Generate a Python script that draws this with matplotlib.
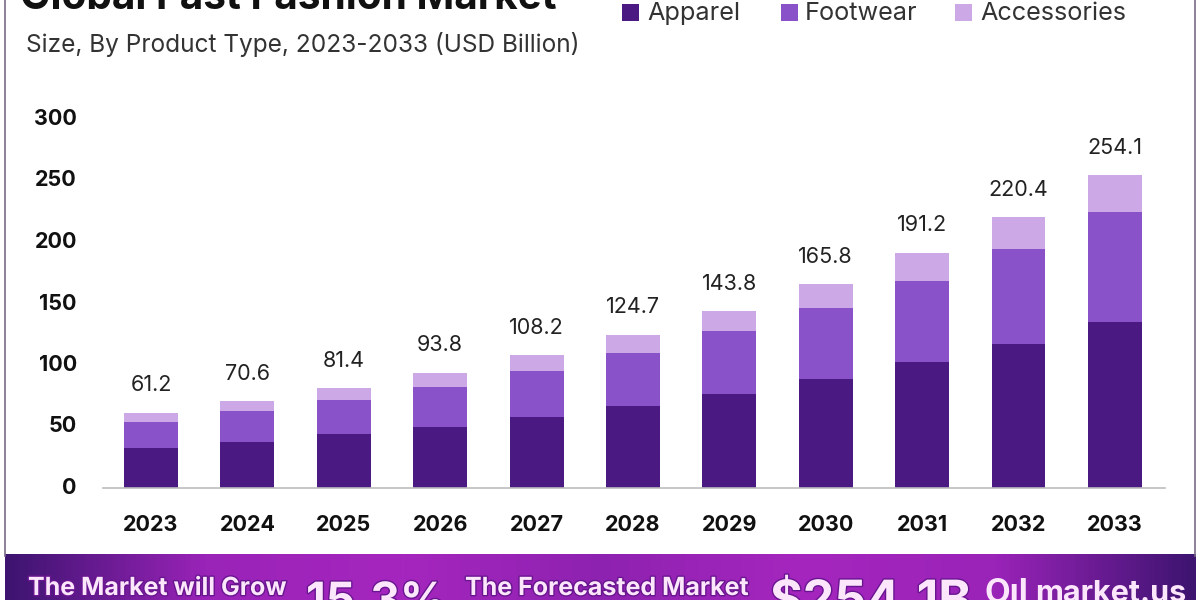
import numpy as np
import matplotlib
matplotlib.use("Agg")
import matplotlib.pyplot as plt
import matplotlib.patheffects as pe
from matplotlib.colors import LinearSegmentedColormap
from matplotlib.patches import Rectangle
from matplotlib.transforms import ScaledTranslation

plt.rcParams['font.family'] = ['Inter', 'DejaVu Sans']

years = ['2023', '2024', '2025', '2026', '2027', '2028', '2029', '2030', '2031', '2032', '2033']
apparel = [32.5, 37.4, 43.9, 49.6, 57.7, 66.7, 76.4, 88.6, 102.4, 117.0, 135.0]
footwear = [21.2, 25.2, 27.6, 32.4, 37.3, 43.3, 51.2, 57.4, 65.6, 77.0, 89.4]
accessories = [7.5, 8.0, 9.9, 11.8, 13.2, 14.7, 16.2, 19.8, 23.2, 26.4, 29.7]
totals = ['61.2', '70.6', '81.4', '93.8', '108.2', '124.7', '143.8', '165.8', '191.2', '220.4', '254.1']
series_names = ['Apparel', 'Footwear', 'Accessories']
series_colors = ['#4A1A82', '#8A52C8', '#CDA8E6']
yticks = [0, 50, 100, 150, 200, 250, 300]

W, H = 1200, 600
fig = plt.figure(figsize=(W / 100, H / 100), dpi=100, facecolor='white')


def fx(x):
    return x / W


def fy(y):
    return 1 - y / H


# Main chart
ax = fig.add_axes([fx(103), fy(488), fx(1165 - 103), (488 - 119) / H])
x = np.arange(len(years))
bottom = np.zeros(len(years))
for vals, col in zip([apparel, footwear, accessories], series_colors):
    ax.bar(x, vals, 0.56, bottom=bottom, color=col, linewidth=0)
    bottom = bottom + np.array(vals)
for xi, top, lab in zip(x, bottom, totals):
    ax.annotate(lab, (xi, top), xytext=(0, 12.5), textcoords='offset points',
                ha='center', va='bottom', fontsize=15.5, color='#222222')
ax.set_xlim(-0.498, 10.52)
ax.set_ylim(0, 300)
ax.set_xticks(x, years)
ax.set_yticks(yticks, [str(t) for t in yticks])
ax.tick_params(axis='x', length=0, pad=19.7, labelsize=15.5, labelcolor='#111111')
ax.tick_params(axis='y', length=0, pad=18.8, labelsize=15.5, labelcolor='#111111')
for lab in ax.get_xticklabels() + ax.get_yticklabels():
    lab.set_fontweight('bold')
up = ScaledTranslation(0, 2 / 100, fig.dpi_scale_trans)
for lab in ax.get_yticklabels():
    lab.set_transform(lab.get_transform() + up)
for s in ['top', 'right', 'left']:
    ax.spines[s].set_visible(False)
ax.spines['bottom'].set_color('#BDBDBD')
ax.spines['bottom'].set_linewidth(1.2)

# Title / subtitle
fig.text(fx(20), fy(9), 'Global Fast Fashion Market', fontsize=29.2, fontweight='bold',
         color='#111111', ha='left', va='baseline')
fig.text(fx(26), fy(52), 'Size, By Product Type, 2023-2033 (USD Billion)', fontsize=17.6,
         color='#333333', ha='left', va='baseline')

# Legend
for name, col, sx, tx in zip(series_names, series_colors, [622, 781, 955], [647, 805, 980]):
    fig.add_artist(Rectangle((fx(sx), fy(21)), 17 / W, 17 / H, transform=fig.transFigure,
                             facecolor=col, edgecolor='none'))
    fig.text(fx(tx), fy(20), name, fontsize=18.2, color='#333333', ha='left', va='baseline')

# Frame lines
for px in [5, 1195]:
    fig.add_artist(plt.Line2D([fx(px), fx(px)], [fy(0), fy(556)], transform=fig.transFigure,
                              color='#7A6A85', lw=1.2))

# Banner
bax = fig.add_axes([fx(5), 0, fx(1191), 46 / H])
cmap = LinearSegmentedColormap.from_list('b', ['#3D1470', '#9A23B8', '#A526BE', '#8E22B0', '#A526BE', '#9A23B8', '#3D1470'])
bax.imshow(np.linspace(0, 1, 512)[None, :], aspect='auto', cmap=cmap, extent=[0, 1, 0, 1])
bax.axis('off')

shadow = [pe.withStroke(linewidth=2, foreground='#6A1590')]
banner_small = '#FBE6FB'
fig.text(fx(28), fy(595), 'The Market will Grow', fontsize=18, fontweight='bold', color=banner_small,
         ha='left', va='baseline', path_effects=shadow)
fig.text(fx(465), fy(595), 'The Forecasted Market', fontsize=18, fontweight='bold', color=banner_small,
         ha='left', va='baseline', path_effects=shadow)
fig.text(fx(306), fy(615), '15.3%', fontsize=33, fontweight='bold', color=banner_small,
         ha='left', va='baseline', path_effects=shadow)
fig.text(fx(770), fy(616), '$254.1B', fontsize=36, fontweight='bold', color=banner_small,
         ha='left', va='baseline', path_effects=shadow)
fig.text(fx(1035), fy(602), 'market.us', fontsize=22, fontweight='bold', color=banner_small,
         ha='left', va='baseline')
fig.text(fx(985), fy(603), 'Oıl', fontsize=24, fontweight='bold', color=banner_small,
         ha='left', va='baseline')

fig.savefig('out.png', dpi=100, facecolor='white')
